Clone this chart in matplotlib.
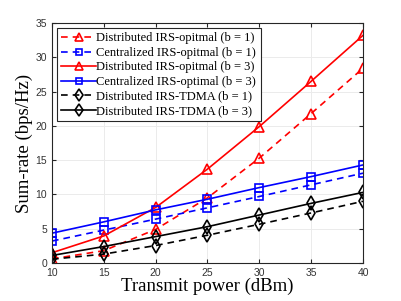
import matplotlib
matplotlib.use("Agg")
import matplotlib.pyplot as plt

power = [10, 15, 20, 25, 30, 35, 40]
dist_opt_b1 = [0.6, 1.8, 4.9, 9.5, 15.3, 21.8, 28.4]
cent_opt_b1 = [3.2, 4.8, 6.4, 8.05, 9.7, 11.4, 13.1]
dist_opt_b3 = [1.5, 3.95, 8.1, 13.7, 19.9, 26.5, 33.2]
cent_opt_b3 = [4.35, 6.0, 7.75, 9.3, 11.0, 12.6, 14.3]
tdma_b1 = [0.55, 1.3, 2.55, 4.05, 5.65, 7.3, 9.0]
tdma_b3 = [1.1, 2.4, 3.85, 5.3, 7.0, 8.7, 10.3]

labels = ["Distributed IRS-opitmal (b = 1)",
          "Centralized IRS-opitmal (b = 1)",
          "Distributed IRS-opitmal (b = 3)",
          "Centralized IRS-optimal (b = 3)",
          "Distributed IRS-TDMA (b = 1)",
          "Distributed IRS-TDMA (b = 3)"]

fig = plt.figure(figsize=(4.02, 3.01), dpi=100)
ax = fig.add_axes([52/402, 1-263/301, 311/402, 240/301])

series = [
    (dist_opt_b1, 'r', '--', '^'),
    (cent_opt_b1, 'b', '--', 's'),
    (dist_opt_b3, 'r', '-', '^'),
    (cent_opt_b3, 'b', '-', 's'),
    (tdma_b1, 'k', '--', 'd'),
    (tdma_b3, 'k', '-', 'd'),
]
for (vals, c, ls, m), lab in zip(series, labels):
    ms = 7 if m == '^' else (5.5 if m == 's' else 7.5)
    ax.plot(power, vals, color=c, linestyle=ls, marker=m, markersize=ms,
            markerfacecolor='none', markeredgewidth=1.2, linewidth=1.2,
            label=lab, dashes=(4, 3) if ls == '--' else (None, None))

ax.set_xlim(10, 40)
ax.set_ylim(0, 35)
ax.set_xticks(power)
ax.set_yticks([0, 5, 10, 15, 20, 25, 30, 35])
ax.grid(True, color='#ebebeb', linewidth=0.7)
ax.set_axisbelow(True)
ax.tick_params(direction='in', labelsize=7.5, colors='#262626', length=3,
               top=True, right=True)
for lab in ax.get_xticklabels() + ax.get_yticklabels():
    lab.set_fontfamily('Liberation Sans')
    lab.set_color('#333333')
for s in ax.spines.values():
    s.set_color('#262626')
    s.set_linewidth(0.8)

ax.set_xlabel("Transmit power (dBm)", fontfamily='Liberation Serif', fontsize=13.5, labelpad=0)
ax.set_ylabel("Sum-rate (bps/Hz)", fontfamily='Liberation Serif', fontsize=13.5, labelpad=2)

leg = ax.legend(loc='upper left', prop={'family': 'Liberation Serif', 'size': 9},
                fancybox=False, edgecolor='#262626', framealpha=1,
                borderpad=0.35, labelspacing=0.2, handlelength=2.8,
                handletextpad=0.0, borderaxespad=0.4, markerscale=0.85)
leg.get_frame().set_linewidth(0.8)

fig.savefig("out.png", dpi=100)
